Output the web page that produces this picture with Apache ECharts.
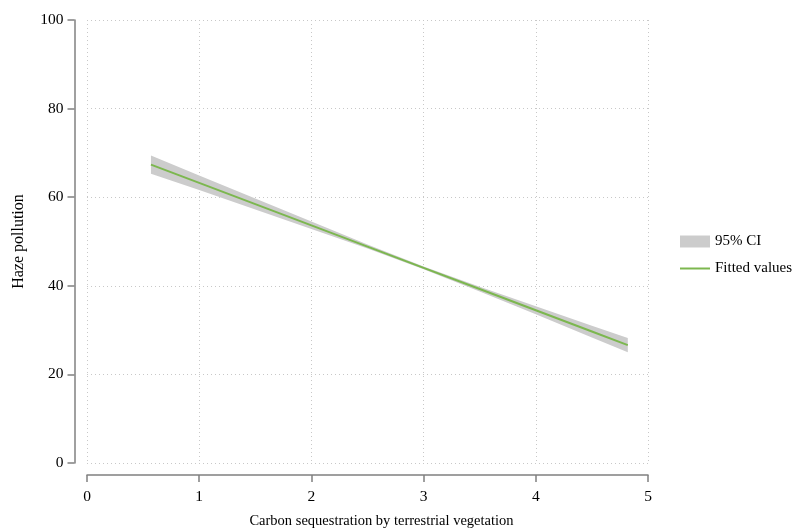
<!DOCTYPE html>
<html><head><meta charset="utf-8">
<script src="https://cdn.jsdelivr.net/npm/echarts@6/dist/echarts.min.js"></script>
<style>html,body{margin:0;padding:0;background:#fff}#c{width:799px;height:529px}</style>
</head><body><div id="c"></div>
<script>
const xVals = [0.57, 1, 1.5, 2, 2.5, 3, 3.5, 4, 4.5, 4.82];
const fitted = [67.34, 63.22, 58.43, 53.64, 48.85, 44.06, 39.27, 34.48, 29.69, 26.62];
const ciLower = [65.3, 61.6, 57.2, 52.8, 48.4, 43.75, 38.7, 33.55, 28.35, 25.0];
const ciUpper = [69.4, 64.9, 59.7, 54.5, 49.3, 44.35, 39.8, 35.4, 31.0, 28.2];
const xTicks = [0, 1, 2, 3, 4, 5];
const yTicks = [0, 20, 40, 60, 80, 100];

const FONT = 'Liberation Serif';
const chart = echarts.init(document.getElementById('c'));
const bandData = xVals.map((x, i) => [x, ciLower[i], ciUpper[i]]);
const lineData = xVals.map((x, i) => [x, fitted[i]]);

chart.setOption({
  backgroundColor: '#fff',
  animation: false,
  textStyle: { fontFamily: FONT },
  grid: { left: 87, right: 151, top: 20, bottom: 66, containLabel: false, outerBoundsMode: 'none' },
  legend: {
    orient: 'vertical', left: 675, top: 229, itemWidth: 30, itemHeight: 12, itemGap: 12,
    textStyle: { fontFamily: FONT, fontSize: 15, color: '#000' },
    data: [
      { name: '95% CI', icon: 'rect', itemStyle: { color: '#cccccc' } },
      { name: 'Fitted values', icon: 'path://M0,0L30,0L30,2L0,2Z', itemStyle: { color: '#7cb74f' } }
    ]
  },
  xAxis: {
    type: 'value', min: 0, max: 5, interval: 1,
    name: 'Carbon sequestration by terrestrial vegetation', nameLocation: 'middle', nameGap: 39,
    nameTextStyle: { fontFamily: FONT, fontSize: 14.5, color: '#000', padding: [0, 0, 0, 28] },
    offset: 12,
    axisLine: { show: true, onZero: false, lineStyle: { color: '#808080', width: 1.5 } },
    axisTick: { show: true, length: 7, lineStyle: { color: '#808080', width: 1.5 } },
    axisLabel: { fontFamily: FONT, fontSize: 15.5, color: '#000', margin: 14,
      formatter: v => xTicks.includes(v) ? String(v) : '' },
    splitLine: { show: true, lineStyle: { type: [1, 3], color: '#c8c8c8', width: 1 } }
  },
  yAxis: {
    type: 'value', min: 0, max: 100, interval: 20,
    name: 'Haze pollution', nameLocation: 'middle', nameGap: 48, nameRotate: 90,
    nameTextStyle: { fontFamily: FONT, fontSize: 16, color: '#000' },
    offset: 12.5,
    axisLine: { show: true, onZero: false, lineStyle: { color: '#808080', width: 1.5 } },
    axisTick: { show: true, length: 7, lineStyle: { color: '#808080', width: 1.5 } },
    axisLabel: { fontFamily: FONT, fontSize: 15.5, color: '#000', margin: 11,
      formatter: v => yTicks.includes(v) ? String(v) : '' },
    splitLine: { show: true, lineStyle: { type: [1, 3], color: '#c8c8c8', width: 1 } }
  },
  series: [
    {
      name: '95% CI', type: 'custom', data: bandData,
      itemStyle: { color: '#cccccc' },
      encode: { x: 0, y: [1, 2] },
      renderItem: function (params, api) {
        if (params.dataIndex !== 0) return null;
        const top = [], bot = [];
        for (let i = 0; i < bandData.length; i++) {
          top.push(api.coord([bandData[i][0], bandData[i][2]]));
          bot.push(api.coord([bandData[i][0], bandData[i][1]]));
        }
        return { type: 'polygon', shape: { points: top.concat(bot.reverse()) },
          style: { fill: '#cccccc' } };
      },
      z: 1
    },
    {
      name: 'Fitted values', type: 'line', data: lineData, symbol: 'none',
      lineStyle: { color: '#7cb74f', width: 2 }, itemStyle: { color: '#7cb74f' }, z: 2
    }
  ]
});
</script></body></html>
